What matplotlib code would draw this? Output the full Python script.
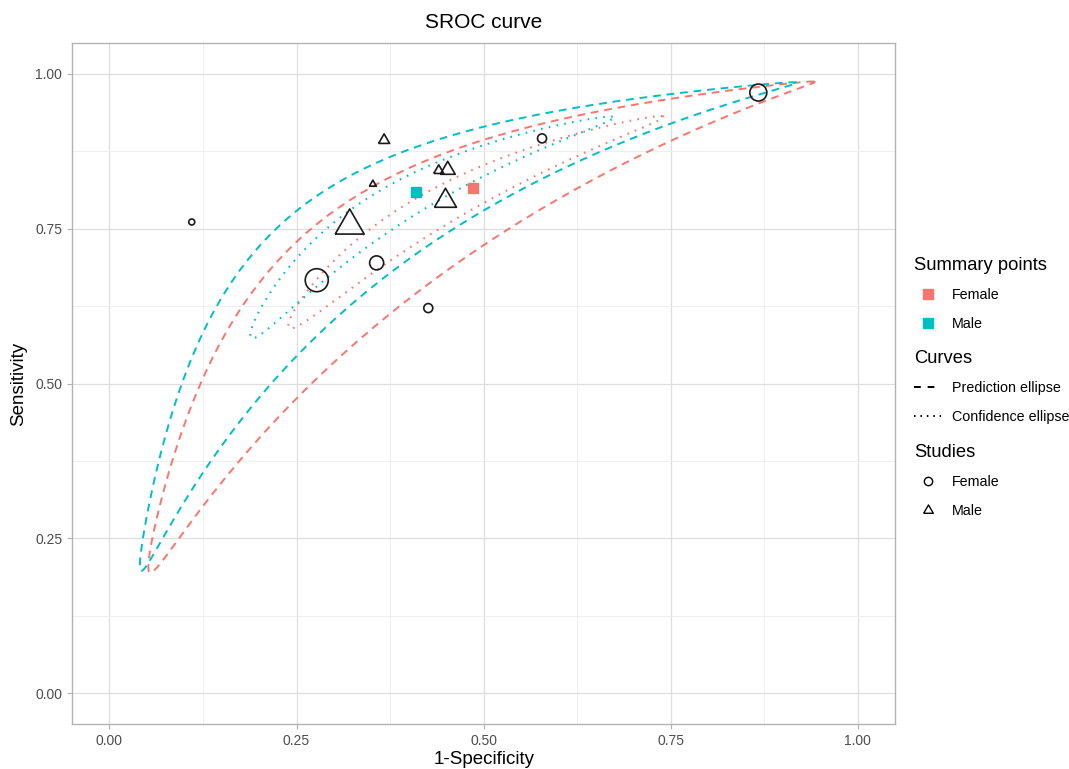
import numpy as np
import matplotlib.pyplot as plt
from matplotlib.lines import Line2D

plt.rcParams['font.family'] = ['Liberation Sans', 'DejaVu Sans']

# summary points (1-specificity, sensitivity)
groups = ["Female", "Male"]
summary_fpr = [0.486, 0.409]
summary_sens = [0.816, 0.810]

# ellipse parameters in logit space: semi-axes and angle (deg)
conf_a = [1.57, 1.583]
conf_b = [0.148, 0.154]
conf_angle = [45.7, 46.6]
pred_a = [4.05, 3.97]
pred_b = [0.41, 0.394]
pred_angle = [45.6, 45.6]

# individual studies
fem_fpr = [0.110, 0.277, 0.357, 0.426, 0.578, 0.867]
fem_sens = [0.761, 0.667, 0.695, 0.622, 0.896, 0.970]
fem_n = [36, 529, 196, 81, 81, 289]
male_fpr = [0.367, 0.352, 0.440, 0.452, 0.449, 0.321]
male_sens = [0.893, 0.822, 0.844, 0.845, 0.795, 0.755]
male_n = [121, 49, 100, 225, 484, 841]

colors = ["#F8766D", "#00BFC4"]


def expit(v):
    return 1 / (1 + np.exp(-v))


def logit(p):
    return np.log(p / (1 - p))


def roc_ellipse(fpr, sens, a, b, angle):
    t = np.linspace(0, 2 * np.pi, 500)
    th = np.deg2rad(angle)
    cx, cy = logit(fpr), logit(sens)
    lx = cx + a * np.cos(t) * np.cos(th) - b * np.sin(t) * np.sin(th)
    ly = cy + a * np.cos(t) * np.sin(th) + b * np.sin(t) * np.cos(th)
    return expit(lx), expit(ly)


fig = plt.figure(figsize=(10.69, 7.69), dpi=100)
ax = fig.add_axes([72 / 1069, 1 - 724.3 / 769, 823.3 / 1069, 681.3 / 769])

dash = (0, (4, 3))
dot = (0, (0.8, 3))
for i in range(2):
    x, y = roc_ellipse(summary_fpr[i], summary_sens[i], pred_a[i], pred_b[i], pred_angle[i])
    ax.plot(x, y, color=colors[i], linestyle=dash, lw=1.4, zorder=3)
    x, y = roc_ellipse(summary_fpr[i], summary_sens[i], conf_a[i], conf_b[i], conf_angle[i])
    ax.plot(x, y, color=colors[i], linestyle=dot, lw=1.5, zorder=3)

tri = [(-1, -0.577), (1, -0.577), (0, 1.155), (-1, -0.577)]
ax.scatter(fem_fpr, fem_sens, s=0.5184 * np.array(fem_n), facecolors='none',
           edgecolors='#1a1a1a', linewidths=1.2, marker='o', zorder=4)
ax.scatter(male_fpr, male_sens, s=0.5184 * np.array(male_n) / 0.75, facecolors='none',
           edgecolors='#1a1a1a', linewidths=1.2, marker=tri, zorder=4)

for i in range(2):
    ax.plot(summary_fpr[i], summary_sens[i], marker='s', ms=7.5, color=colors[i],
            linestyle='none', zorder=5)

ax.set_xlim(-0.05, 1.05)
ax.set_ylim(-0.05, 1.05)
ticks = [0, 0.25, 0.5, 0.75, 1.0]
tick_labels = ["0.00", "0.25", "0.50", "0.75", "1.00"]
ax.set_xticks(ticks)
ax.set_yticks(ticks)
ax.set_xticklabels(tick_labels)
ax.set_yticklabels(tick_labels)
ax.set_xticks([0.125, 0.375, 0.625, 0.875], minor=True)
ax.set_yticks([0.125, 0.375, 0.625, 0.875], minor=True)
ax.grid(which='major', color='#DEDEDE', lw=0.9)
ax.grid(which='minor', color='#EDEDED', lw=0.6)
ax.set_axisbelow(True)
ax.tick_params(which='major', length=3.5, color='#B3B3B3', labelcolor='#4D4D4D',
               labelsize=10, width=0.8)
ax.tick_params(which='minor', length=0)
for sp in ax.spines.values():
    sp.set_color('#B3B3B3')
    sp.set_linewidth(1.0)

ax.set_xlabel("1-Specificity", fontsize=13.5, labelpad=2)
ax.set_ylabel("Sensitivity", fontsize=13.5, labelpad=6)
ax.set_title("SROC curve", fontsize=15, pad=11)

# legends
leg_kw = dict(frameon=False, loc='upper left', fontsize=10.3, title_fontsize=13.2,
              alignment='left', handlelength=1.9, handletextpad=0.75, labelspacing=1.0,
              borderpad=0, borderaxespad=0)
h1 = [Line2D([], [], marker='s', ms=7.5, color=c, linestyle='none') for c in colors]
l1 = fig.legend(h1, groups, title="Summary points",
                bbox_to_anchor=(914 / 1069, 1 - 257 / 769), **leg_kw)
h2 = [Line2D([], [], color='black', linestyle=(0, (3.5, 3.5)), lw=1.4),
      Line2D([], [], color='black', linestyle=(0, (0.8, 2.5)), lw=1.4)]
l2 = fig.legend(h2, ["Prediction ellipse", "Confidence ellipse"], title="Curves",
                bbox_to_anchor=(914 / 1069, 1 - 350 / 769), **leg_kw)
h3 = [Line2D([], [], marker='o', ms=6, mfc='none', mec='black', linestyle='none'),
      Line2D([], [], marker=tri, ms=8, mfc='none', mec='black', linestyle='none')]
l3 = fig.legend(h3, groups, title="Studies",
                bbox_to_anchor=(914 / 1069, 1 - 444 / 769), **leg_kw)

fig.savefig("out.png", dpi=100)
